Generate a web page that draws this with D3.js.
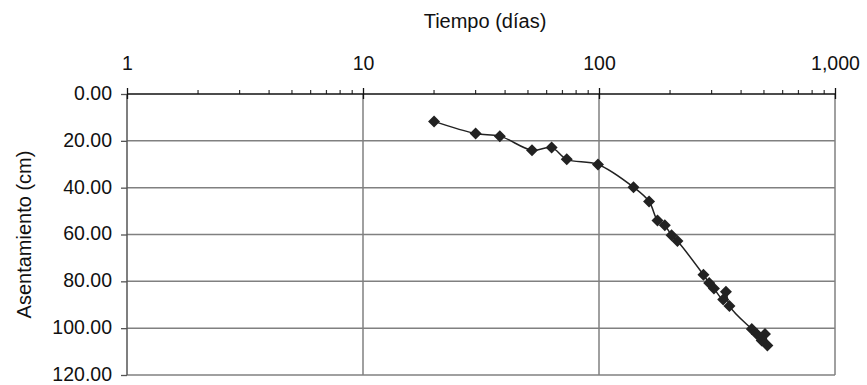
<!DOCTYPE html>
<html>

<head>
    <meta charset="utf-8">
    <style>
        body {
            margin: 0;
            background: #fff;
        }

        svg {
            font-family: 'Liberation Sans', Arial, Helvetica, sans-serif;
        }

        .axis text {
            font-size: 19.5px;
            fill: #111;
        }

        .axis .domain {
            display: none;
        }

        .grid line {
            stroke: #808080;
            stroke-width: 1.5;
        }

        .axis-label {
            font-size: 20px;
            fill: #111;
        }
    </style>
</head>

<body>
    <svg width="867" height="385"></svg>

<script src="https://d3js.org/d3.v7.min.js"></script>

<script>
    // tiempo (dias) y asentamiento (cm)
    let dias = [20, 30, 38, 52, 63, 73, 99, 140, 163, 177, 190, 203, 215,
        277, 293, 307, 336, 345, 357, 444, 466, 489, 505, 517];
    let asentamiento = [11.7, 16.9, 18.0, 24.0, 22.9, 27.9, 30.1, 39.8, 45.9, 54.0, 56.1, 60.3, 62.8,
        77.2, 80.7, 83.1, 87.8, 84.5, 90.5, 100.4, 102.5, 105.3, 102.5, 107.4];

    let xTicks = [1, 10, 100, 1000];
    let yTicks = [0, 20, 40, 60, 80, 100, 120];

    let width = 867;
    let height = 385;
    let margin = { top: 94, right: 32, bottom: 10, left: 127 };

    let svg = d3.select("svg");

    let xScale = d3.scaleLog()
        .domain([1, 1000])
        .range([margin.left, width - margin.right]);

    let yScale = d3.scaleLinear()
        .domain([0, 120])
        .range([margin.top, height - margin.bottom]);

    // minor ticks 2..9 of every decade
    let minorTicks = xScale.ticks().filter(function (d) { return xTicks.indexOf(d) < 0; });

    // horizontal grid
    svg.append("g")
        .attr("class", "grid")
        .selectAll("line")
        .data(yTicks.slice(1))
        .enter().append("line")
        .attr("x1", xScale(1))
        .attr("x2", xScale(1000))
        .attr("y1", function (d) { return yScale(d); })
        .attr("y2", function (d) { return yScale(d); });

    // vertical grid
    svg.append("g")
        .attr("class", "grid")
        .selectAll("line")
        .data(xTicks.slice(1))
        .enter().append("line")
        .attr("x1", function (d) { return xScale(d); })
        .attr("x2", function (d) { return xScale(d); })
        .attr("y1", yScale(0))
        .attr("y2", yScale(120));

    // left axis
    let yAxis = d3.axisLeft(yScale)
        .tickValues(yTicks)
        .tickSize(6)
        .tickPadding(9)
        .tickFormat(d3.format(".2f"));

    svg.append("g")
        .attr("class", "y axis")
        .attr("transform", `translate(${margin.left},0)`)
        .call(yAxis)
        .call(function (g) {
            g.selectAll(".tick line").attr("stroke", "#555").attr("stroke-width", 1.3);
            g.selectAll(".tick text").attr("dy", "0.28em");
        });

    svg.append("line")
        .attr("x1", margin.left)
        .attr("x2", margin.left)
        .attr("y1", yScale(0))
        .attr("y2", yScale(120))
        .attr("stroke", "#555")
        .attr("stroke-width", 1.5);

    // top axis
    let xAxis = d3.axisTop(xScale)
        .tickValues(xTicks)
        .tickSize(6)
        .tickPadding(18)
        .tickFormat(d3.format(","));

    svg.append("g")
        .attr("class", "x axis")
        .attr("transform", `translate(0,${margin.top})`)
        .call(xAxis)
        .call(function (g) { g.selectAll(".tick line").attr("stroke", "#111").attr("stroke-width", 1.3).attr("y2", -6).attr("y1", 5); });

    svg.append("g")
        .attr("transform", `translate(0,${margin.top})`)
        .selectAll("line")
        .data(minorTicks)
        .enter().append("line")
        .attr("x1", function (d) { return xScale(d); })
        .attr("x2", function (d) { return xScale(d); })
        .attr("y1", 0)
        .attr("y2", -4)
        .attr("stroke", "#333")
        .attr("stroke-width", 1.2);

    svg.append("line")
        .attr("x1", xScale(1))
        .attr("x2", xScale(1000))
        .attr("y1", yScale(0))
        .attr("y2", yScale(0))
        .attr("stroke", "#111")
        .attr("stroke-width", 1.5);

    // titles
    svg.append("text")
        .attr("class", "axis-label")
        .attr("x", (xScale(1) + xScale(1000)) / 2 + 4)
        .attr("y", 28)
        .attr("text-anchor", "middle")
        .text("Tiempo (días)");

    svg.append("text")
        .attr("class", "axis-label")
        .attr("transform", `translate(31,${(yScale(0) + yScale(120)) / 2}) rotate(-90)`)
        .attr("text-anchor", "middle")
        .text("Asentamiento (cm)");

    // data
    let points = dias.map(function (d, i) { return { t: d, s: asentamiento[i] }; });

    let line = d3.line()
        .x(function (d) { return xScale(d.t); })
        .y(function (d) { return yScale(d.s); })
        .curve(d3.curveCatmullRom.alpha(0.5));

    svg.append("path")
        .datum(points)
        .attr("d", line)
        .attr("fill", "none")
        .attr("stroke", "#222")
        .attr("stroke-width", 1.5);

    svg.selectAll(".pt")
        .data(points)
        .enter().append("path")
        .attr("class", "pt")
        .attr("d", d3.symbol().type(d3.symbolSquare).size(72))
        .attr("transform", function (d) { return `translate(${xScale(d.t)},${yScale(d.s)}) rotate(45)`; })
        .attr("fill", "#222");
</script>
</body>

</html>
